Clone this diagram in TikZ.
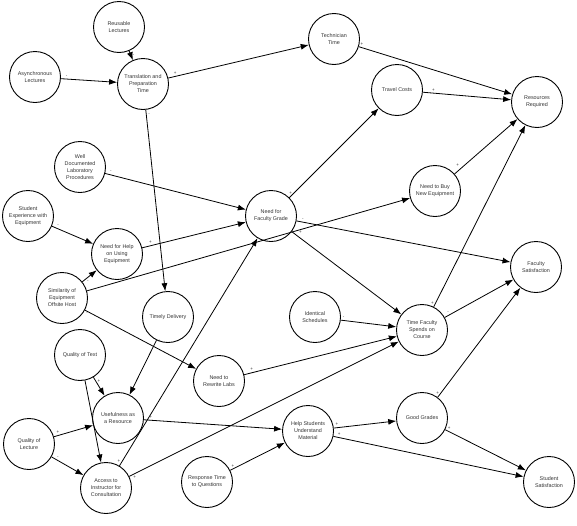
\documentclass[tikz,border=0pt]{standalone}
\usepackage{fontspec}
\setmainfont{Liberation Sans}
\usetikzlibrary{arrows.meta}

\begin{document}
\begin{tikzpicture}[
  x=1pt,y=-1pt,
  font=\fontsize{5.4}{7}\selectfont,
  factor/.style={draw,circle,line width=.9pt,minimum size=51pt,inner sep=0pt,align=center,text=black!80},
  link/.style={-{Latex[length=8pt,width=6pt]},line width=.8pt},
  sgn/.style={font=\fontsize{4.5}{4.5}\selectfont,inner sep=1.5pt,text=black!80}
]
  \useasboundingbox (0,0) rectangle (577,525);

  \node[factor] (reuse) at (119,27) {Reusable\\Lectures};
  \node[factor] (async) at (35,77) {Asynchronous\\Lectures};
  \node[factor] (trans) at (143,84) {Translation and\\Preparation\\Time};
  \node[factor] (tech) at (334,39) {Technician\\Time};
  \node[factor] (travel) at (397,90) {Travel Costs};
  \node[factor] (resreq) at (537,102) {Resources\\Required};
  \node[factor] (buy) at (435,191) {Need to Buy\\New Equipment};
  \node[factor] (welldoc) at (80,167) {Well\\Documented\\Laboratory\\Procedures};
  \node[factor] (stuexp) at (28,216) {Student\\Experience with\\Equipment};
  \node[factor] (help) at (117,254) {Need for Help\\on Using\\Equipment};
  \node[factor] (simil) at (62,298) {Similarity of\\Equipment\\Offsite Host};
  \node[factor] (grade) at (271,216) {Need for\\Faculty Grade};
  \node[factor] (facsat) at (536,267) {Faculty\\Satisfaction};
  \node[factor] (timely) at (168,317) {Timely Delivery};
  \node[factor] (qtext) at (80,355) {Quality of Text};
  \node[factor] (useful) at (118,418) {Usefulness as\\a Resource};
  \node[factor] (qlect) at (29,444) {Quality of\\Lecture};
  \node[factor] (access) at (106,488) {Access to\\Instructor for\\Consultation};
  \node[factor] (ident) at (315,317) {Identical\\Schedules};
  \node[factor] (rewrite) at (219,381) {Need to\\Rewrite Labs};
  \node[factor] (helpstu) at (308,431) {Help Students\\Understand\\Material};
  \node[factor] (resp) at (207,482) {Response Time\\to Questions};
  \node[factor] (timefac) at (422,330) {Time Faculty\\Spends on\\Course};
  \node[factor] (good) at (422,418) {Good Grades};
  \node[factor] (stusat) at (549,482) {Student\\Satisfaction};

  \draw[link] (reuse) -- node[sgn,pos=.5,right] {-} (trans);
  \draw[link] (async) -- node[sgn,pos=.1,above] {-} (trans);
  \draw[link] (trans) -- node[sgn,pos=.05,above] {+} (tech);
  \draw[link] (trans) -- node[sgn,pos=.03,right] {-} (timely);
  \draw[link] (tech) -- node[sgn,pos=.02,above] {+} (resreq);
  \draw[link] (travel) -- node[sgn,pos=.12,above] {+} (resreq);
  \draw[link] (buy) -- node[sgn,pos=.1,above left] {+} (resreq);
  \draw[link] (timefac) -- node[sgn,pos=.02,left] {+} (resreq);
  \draw[link] (good) -- node[sgn,pos=.04,left] {+} (facsat);
  \draw[link] (grade) -- node[sgn,pos=.05,left] {+} (travel);
  \draw[link] (grade) -- node[sgn,pos=.03,above] {-} (facsat);
  \draw[link] (grade) -- node[sgn,pos=.05,above right] {+} (timefac);
  \draw[link] (welldoc) -- node[sgn,pos=.04,above] {-} (grade);
  \draw[link] (help) -- node[sgn,pos=.08,above] {+} (grade);
  \draw[link] (stuexp) -- node[sgn,pos=.15,above] {-} (help);
  \draw[link] (simil) -- node[sgn,pos=.2,below right] {-} (help);
  \draw[link] (simil) -- (buy);
  \draw[link] (simil) -- node[sgn,pos=.02,below] {-} (rewrite);
  \draw[link] (access) -- node[sgn,pos=.02,left] {+} (grade);
  \draw[link] (access) -- node[sgn,pos=.02,below] {+} (timefac);
  \draw[link] (timely) -- node[sgn,pos=.02,right] {+} (useful);
  \draw[link] (qtext) -- node[sgn,pos=.2,right] {+} (useful);
  \draw[link] (qtext) -- node[sgn,pos=0,left] {-} (access);
  \draw[link] (qlect) -- node[sgn,pos=.1,above] {+} (useful);
  \draw[link] (qlect) -- node[sgn,pos=.2,above] {-} (access);
  \draw[link] (useful) -- node[sgn,pos=.05,above] {+} (helpstu);
  \draw[link] (ident) -- node[sgn,pos=.05,above] {-} (timefac);
  \draw[link] (rewrite) -- node[sgn,pos=.05,above] {+} (timefac);
  \draw[link] (resp) -- node[sgn,pos=.05,above] {+} (helpstu);
  \draw[link] (helpstu) -- node[sgn,pos=.05,above] {+} (good);
  \draw[link] (helpstu) -- node[sgn,pos=.03,above] {+} (stusat);
  \draw[link] (good) -- node[sgn,pos=.05,above] {+} (stusat);
  \draw[link] (timefac) -- node[sgn,pos=.05,above] {-} (facsat);
\end{tikzpicture}
\end{document}
